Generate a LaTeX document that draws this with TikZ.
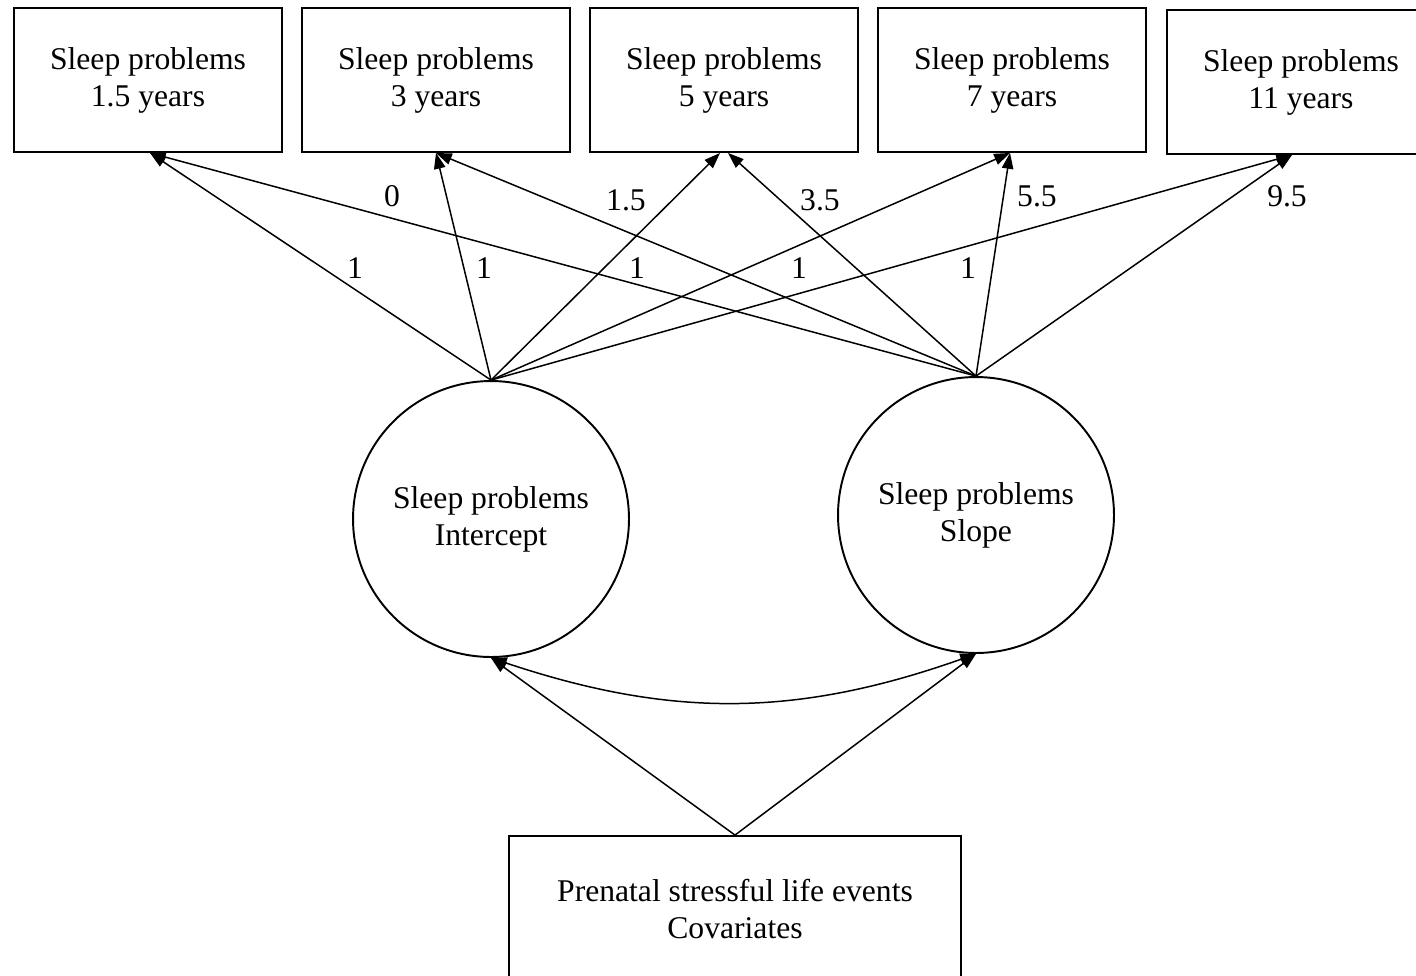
\documentclass[tikz,border=0pt]{standalone}
\usepackage{fontspec}
\setmainfont{Liberation Serif}
\usetikzlibrary{arrows.meta,calc}
\begin{document}
\begin{tikzpicture}[x=0.02cm,y=-0.02cm,
  txt/.style={font=\fontsize{18}{21}\selectfont,align=center,inner sep=0pt},
  obsbox/.style={txt,draw,line width=1.1pt,minimum width=5.36cm,minimum height=2.88cm},
  latent/.style={txt,draw,circle,line width=1.1pt,minimum size=5.52cm},
  path/.style={line width=0.85pt,-{Triangle[length=9pt,width=6.5pt]}},
  cov/.style={line width=0.85pt,{Triangle[length=9pt,width=6.5pt]}-{Triangle[length=9pt,width=6.5pt]}},
  lab/.style={txt}]
\useasboundingbox (0,0) rectangle (1416,975);
\node[obsbox] (b1) at (148,80) {Sleep problems\\1.5 years};
\node[obsbox] (b2) at (436,80) {Sleep problems\\3 years};
\node[obsbox] (b3) at (724,80) {Sleep problems\\5 years};
\node[obsbox] (b4) at (1012,80) {Sleep problems\\7 years};
\node[obsbox] (b5) at (1301,82) {Sleep problems\\11 years};
\node[latent] (int) at (491,519) {Sleep problems\\Intercept};
\node[latent] (slo) at (976,515) {Sleep problems\\Slope};
\node[txt,draw,line width=1.1pt,minimum width=9.04cm,minimum height=2.92cm] (cv) at (735,909) {Prenatal stressful life events\\Covariates};
% intercept loadings
\draw[path] (int.north) -- ([xshift=0.04cm]b1.south);
\draw[path] (int.north) -- (b2.south);
\draw[path] (int.north) -- ([xshift=-0.08cm]b3.south);
\draw[path] (int.north) -- ([xshift=-0.04cm]b4.south);
\draw[path] (int.north) -- ([xshift=-0.18cm]b5.south);
% slope loadings
\draw[path] (slo.north) -- ([xshift=0.04cm]b1.south);
\draw[path] (slo.north) -- (b2.south);
\draw[path] (slo.north) -- ([xshift=0.08cm]b3.south);
\draw[path] (slo.north) -- ([xshift=-0.04cm]b4.south);
\draw[path] (slo.north) -- ([xshift=-0.18cm]b5.south);
% labels
\node[lab] (l1) at (355,268) {1};
\node[lab] (l2) at (484,268) {1};
\node[lab] (l3) at (637,268) {1};
\node[lab] (l4) at (799,268) {1};
\node[lab] (l5) at (968,268) {1};
\node[lab] (s1) at (392,196) {0};
\node[lab] (s2) at (626,200) {1.5};
\node[lab] (s3) at (820,200) {3.5};
\node[lab] (s4) at (1037,196) {5.5};
\node[lab] (s5) at (1287,196) {9.5};
% covariates
\draw[path] (cv.north) -- (int.south);
\draw[path] (cv.north) -- (slo.south);
\draw[cov] (int.south) to[bend right=19] (slo.south);
\end{tikzpicture}
\end{document}
